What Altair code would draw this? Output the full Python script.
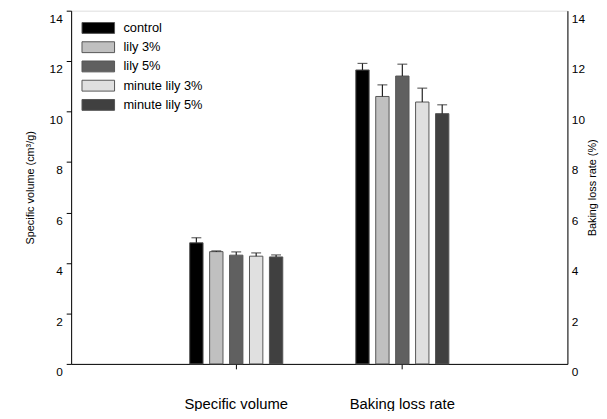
import altair as alt
import pandas as pd

categories = ["Specific volume", "Baking loss rate"]
series = ["control", "lily 3%", "lily 5%", "minute lily 3%", "minute lily 5%"]
colors = ["#000000", "#c0c0c0", "#606060", "#e0e0e0", "#404040"]

specific_volume = [4.80, 4.45, 4.31, 4.27, 4.24]
specific_volume_err = [0.20, 0.03, 0.13, 0.13, 0.08]
baking_loss = [11.65, 10.60, 11.41, 10.38, 9.92]
baking_loss_err = [0.26, 0.46, 0.47, 0.55, 0.35]

rows = []
for s, v, e in zip(series, specific_volume, specific_volume_err):
    rows.append({"category": categories[0], "series": s, "value": v, "top": v + e})
for s, v, e in zip(series, baking_loss, baking_loss_err):
    rows.append({"category": categories[1], "series": s, "value": v, "top": v + e})
df = pd.DataFrame(rows)

FONT = "Liberation Sans"

x_enc = alt.X("category:N", sort=categories,
              scale=alt.Scale(paddingInner=0.4, paddingOuter=0.694),
              axis=alt.Axis(title=None, labelAngle=0, labelFontSize=15, labelFont=FONT,
                            labelColor="#000", labelPadding=28, tickSize=5,
                            tickColor="#000", domainColor="#000"))
xo_enc = alt.XOffset("series:N", sort=series,
                     scale=alt.Scale(paddingInner=0.33, paddingOuter=0.165))
y_scale = alt.Scale(domain=[0, 14], nice=False)

bars = alt.Chart(df).mark_bar(stroke="#555", strokeWidth=1).encode(
    x=x_enc,
    xOffset=xo_enc,
    y=alt.Y("value:Q", scale=y_scale,
            axis=alt.Axis(orient="left", title="Specific volume (cm³/g)", values=list(range(0, 15, 2)),
                          grid=False, tickSize=5, tickColor="#000", domainColor="#000",
                          labelFont=FONT, labelFontSize=12, labelColor="#000",
                          labelBaseline="top", labelOffset=3, labelPadding=4,
                          titleFont=FONT, titleFontSize=11, titleFontWeight="normal",
                          titleColor="#000", titlePadding=14)),
    fill=alt.Fill("series:N", sort=series,
                  scale=alt.Scale(domain=series, range=colors),
                  legend=alt.Legend(title=None, orient="none", legendX=21, legendY=11,
                                    symbolType="M-3,-1H3V1H-3Z", symbolSize=121,
                                    symbolStrokeColor="#555", symbolStrokeWidth=1,
                                    symbolOpacity=1, labelFont=FONT, labelFontSize=13,
                                    labelColor="#000", labelOffset=19, rowPadding=4.5,
                                    padding=0)),
)

err_rule = alt.Chart(df).mark_rule(color="#222", strokeWidth=1.2).encode(
    x=alt.X("category:N", sort=categories),
    xOffset=alt.XOffset("series:N", sort=series),
    y=alt.Y("value:Q", scale=y_scale, axis=None),
    y2="top:Q",
)

err_cap = alt.Chart(df).mark_tick(color="#222", thickness=1.2, size=10).encode(
    x=alt.X("category:N", sort=categories),
    xOffset=alt.XOffset("series:N", sort=series),
    y=alt.Y("top:Q", scale=y_scale,
            axis=alt.Axis(orient="right", title="Baking loss rate (%)", values=list(range(0, 15, 2)),
                          grid=False, ticks=False, domainColor="#000",
                          labelFont=FONT, labelFontSize=12, labelColor="#000",
                          labelBaseline="top", labelOffset=3, labelPadding=4,
                          titleFont=FONT, titleFontSize=11, titleFontWeight="normal",
                          titleColor="#000", titleAngle=270, titleBaseline="top",
                          titlePadding=2)),
)

chart = alt.layer(bars, err_rule, err_cap).resolve_scale(y="shared").resolve_axis(
    y="independent"
).properties(
    width=503,
    height=358,
    autosize=alt.AutoSizeParams(type="none"),
    padding={"left": 64, "top": 0, "right": 32, "bottom": 45},
).configure_view(stroke="#000", strokeWidth=1).configure(background="white")

chart.save("out.html", embed_options={"renderer": "svg", "actions": False})
